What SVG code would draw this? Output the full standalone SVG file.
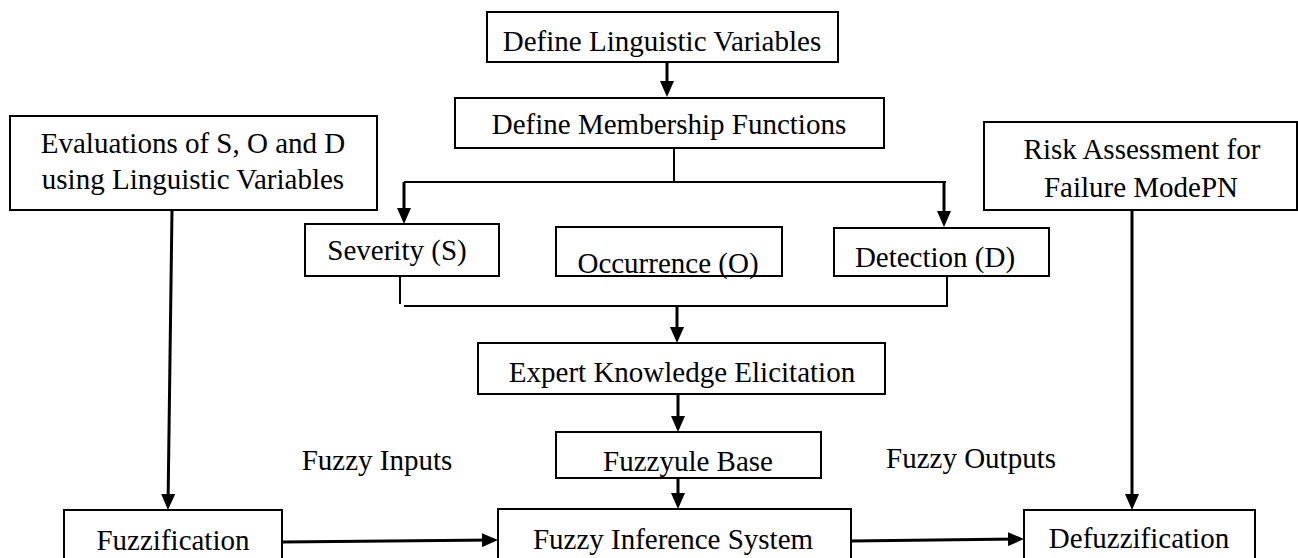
<svg xmlns="http://www.w3.org/2000/svg" width="1298" height="558" viewBox="0 0 1298 558">
  <defs>
    <style>
      .box { fill: #ffffff; stroke: #000000; stroke-width: 2; }
      .lbl { font-family: "Liberation Serif", "Times New Roman", serif; font-size: 29px; fill: #000000; text-anchor: middle; }
      .wire { fill: none; stroke: #000000; stroke-width: 2; }
      .arr { fill: none; stroke: #000000; stroke-width: 3; marker-end: url(#head); }
    </style>
    <marker id="head" markerUnits="userSpaceOnUse" markerWidth="16" markerHeight="14" refX="12" refY="7" orient="auto">
      <path d="M0,0 L16,7 L0,14 Z" fill="#000000"/>
    </marker>
  </defs>
  <rect width="1298" height="558" fill="#ffffff"/>

  <!-- connectors -->
  <g id="connectors">
    <line class="arr" x1="667" y1="62" x2="667" y2="93"/>
    <polyline class="wire" points="674,148 674,182"/>
    <polyline class="wire" points="404,182 946,182"/>
    <line class="arr" x1="404" y1="182" x2="404" y2="220"/>
    <line class="arr" x1="944" y1="182" x2="944" y2="223"/>
    <polyline class="wire" points="400,276 400,304"/>
    <polyline class="wire" points="404,306 947,306 947,276"/>
    <line class="arr" x1="677" y1="306" x2="677" y2="339"/>
    <line class="arr" x1="678" y1="394" x2="678" y2="428"/>
    <line class="arr" x1="678" y1="478" x2="678" y2="505"/>
    <line class="arr" x1="172" y1="210" x2="168" y2="506"/>
    <line class="arr" x1="1132" y1="210" x2="1132" y2="506"/>
    <line class="arr" x1="282" y1="542" x2="494" y2="540"/>
    <line class="arr" x1="851" y1="541" x2="1020" y2="539"/>
  </g>

  <g id="define-linguistic">
    <rect class="box" x="487" y="12" width="351" height="50"/>
    <text class="lbl" x="662" y="51">Define Linguistic Variables</text>
  </g>

  <g id="define-membership">
    <rect class="box" x="455" y="98" width="429" height="50"/>
    <text class="lbl" x="669" y="134">Define Membership Functions</text>
  </g>

  <g id="evaluations">
    <rect class="box" x="10" y="116" width="367" height="94"/>
    <text class="lbl" x="193" y="153">Evaluations of S, O and D</text>
    <text class="lbl" x="193" y="189">using Linguistic Variables</text>
  </g>

  <g id="risk-assessment">
    <rect class="box" x="984" y="122" width="313" height="88"/>
    <text class="lbl" x="1142" y="159">Risk Assessment for</text>
    <text class="lbl" x="1141" y="197">Failure ModePN</text>
  </g>

  <g id="severity">
    <rect class="box" x="305" y="224" width="194" height="52"/>
    <text class="lbl" x="397" y="260">Severity (S)</text>
  </g>

  <g id="occurrence">
    <rect class="box" x="556" y="227" width="226" height="49"/>
    <text class="lbl" x="668" y="273">Occurrence (O)</text>
  </g>

  <g id="detection">
    <rect class="box" x="834" y="228" width="215" height="48"/>
    <text class="lbl" x="935" y="267">Detection (D)</text>
  </g>

  <g id="expert-knowledge">
    <rect class="box" x="478" y="343" width="407" height="51"/>
    <text class="lbl" x="682" y="382">Expert Knowledge Elicitation</text>
  </g>

  <g id="rule-base">
    <rect class="box" x="556" y="432" width="265" height="46"/>
    <text class="lbl" x="688" y="471">Fuzzyule Base</text>
  </g>

  <g id="fuzzification">
    <rect class="box" x="64" y="510" width="218" height="60"/>
    <text class="lbl" x="173" y="550">Fuzzification</text>
  </g>

  <g id="inference-system">
    <rect class="box" x="498" y="509" width="353" height="61"/>
    <text class="lbl" x="673" y="549">Fuzzy Inference System</text>
  </g>

  <g id="defuzzification">
    <rect class="box" x="1024" y="510" width="231" height="60"/>
    <text class="lbl" x="1139" y="548">Defuzzification</text>
  </g>

  <g id="edge-labels">
    <text class="lbl" x="377" y="470">Fuzzy Inputs</text>
    <text class="lbl" x="971" y="468">Fuzzy Outputs</text>
  </g>
</svg>
